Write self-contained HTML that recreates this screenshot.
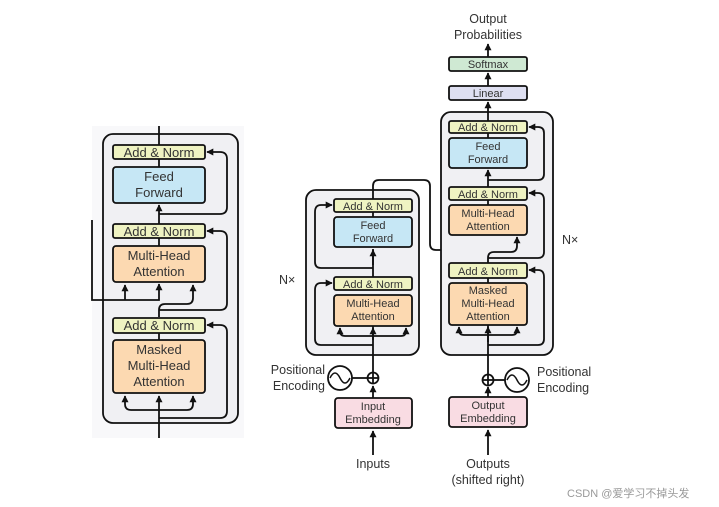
<!DOCTYPE html>
<html><head><meta charset="utf-8"><style>
html,body{margin:0;padding:0;background:#fff;width:719px;height:507px;overflow:hidden}
svg{display:block}
text{font-family:"Liberation Sans",sans-serif;fill:#333}
</style></head><body>
<svg width="719" height="507" viewBox="0 0 719 507" xmlns="http://www.w3.org/2000/svg">
<defs><marker id="a" viewBox="0 0 10 10" refX="9" refY="5" markerUnits="userSpaceOnUse" markerWidth="7" markerHeight="7" orient="auto"><path d="M0,0L10,5L0,10z" fill="#111"/></marker></defs>
<g stroke="#111" stroke-width="1.8" fill="none">
<!-- LEFT PANEL -->
<rect x="92" y="126" width="152" height="312" fill="#f8f8fa" stroke="none"/>
<rect x="103" y="134" width="135" height="289" rx="10" fill="#f0f0f3"/>
<line x1="159" y1="126" x2="159" y2="145"/>
<line x1="159" y1="159" x2="159" y2="167"/>
<line x1="159" y1="238" x2="159" y2="246"/>
<line x1="159" y1="224" x2="159" y2="205" marker-end="url(#a)"/>
<path d="M159 214 H220 Q227 214 227 207 V159 Q227 152 220 152 H207" marker-end="url(#a)"/>
<path d="M92 220 V300 H159 V284" marker-end="url(#a)"/>
<path d="M125 300 V285" marker-end="url(#a)"/>
<path d="M159 317 V310 Q159 304 165 304 H187 Q193 304 193 298 V285" marker-end="url(#a)"/>
<path d="M159 310 H220 Q227 310 227 303 V238 Q227 231 220 231 H207" marker-end="url(#a)"/>
<line x1="159" y1="333" x2="159" y2="340"/>
<path d="M159 438 V396" marker-end="url(#a)"/>
<path d="M159 410 H131 Q125 410 125 404 V396" marker-end="url(#a)"/>
<path d="M159 410 H187 Q193 410 193 404 V396" marker-end="url(#a)"/>
<path d="M159 418 H220 Q227 418 227 411 V332 Q227 325 220 325 H207" marker-end="url(#a)"/>
<rect x="113" y="145" width="92" height="14" rx="2" fill="#eff3c2"/>
<rect x="113" y="167" width="92" height="36" rx="3" fill="#c6e7f5"/>
<rect x="113" y="224" width="92" height="14" rx="2" fill="#eff3c2"/>
<rect x="113" y="246" width="92" height="36" rx="3" fill="#fcd9b1"/>
<rect x="113" y="318" width="92" height="15" rx="2" fill="#eff3c2"/>
<rect x="113" y="340" width="92" height="53" rx="3" fill="#fcd9b1"/>

<!-- ENCODER -->
<rect x="306" y="190" width="113" height="165" rx="10" fill="#f0f0f3"/>
<path d="M373 455 V431" marker-end="url(#a)"/>
<path d="M373 398 V386" marker-end="url(#a)"/>
<line x1="373" y1="373" x2="373" y2="326"/>
<path d="M373 345 H321 Q315 345 315 339 V290 Q315 283 321 283 H332" marker-end="url(#a)"/>
<path d="M373 336 H345 Q340 336 340 331 V328" marker-end="url(#a)"/>
<path d="M373 336 H401 Q406 336 406 331 V328" marker-end="url(#a)"/>
<path d="M373 340 V328" marker-end="url(#a)"/>
<line x1="373" y1="277" x2="373" y2="249"/>
<path d="M373 265 V250" marker-end="url(#a)"/>
<path d="M373 268 H321 Q315 268 315 262 V212 Q315 205 321 205 H332" marker-end="url(#a)"/>
<line x1="373" y1="212" x2="373" y2="217"/>
<path d="M373 199 V186 Q373 180 379 180 H424 Q430 180 430 186 V244 Q430 250 436 250 H488 V237" marker-end="url(#a)"/>
<path d="M459 250 V237" marker-end="url(#a)"/>
<circle cx="373" cy="378" r="5.5" fill="#fff"/>
<line x1="367.5" y1="378" x2="378.5" y2="378"/><line x1="373" y1="372.5" x2="373" y2="383.5"/>
<line x1="352" y1="378" x2="367" y2="378"/>
<circle cx="340" cy="378" r="12" fill="#fff"/>
<path d="M330 378 Q335 368 340 378 T350 378" stroke-width="1.5"/>
<rect x="334" y="199" width="78" height="13" rx="2" fill="#eff3c2"/>
<rect x="334" y="217" width="78" height="30" rx="3" fill="#c6e7f5"/>
<rect x="334" y="277" width="78" height="13" rx="2" fill="#eff3c2"/>
<rect x="334" y="295" width="78" height="31" rx="3" fill="#fcd9b1"/>
<rect x="335" y="398" width="77" height="30" rx="3" fill="#f9dce3"/>

<!-- DECODER -->
<rect x="441" y="112" width="112" height="243" rx="10" fill="#f0f0f3"/>
<path d="M488 455 V430" marker-end="url(#a)"/>
<path d="M488 397 V387" marker-end="url(#a)"/>
<line x1="488" y1="374" x2="488" y2="325"/>
<path d="M488 345 H538 Q544 345 544 339 V277 Q544 270 538 270 H529" marker-end="url(#a)"/>
<path d="M488 335 H464 Q459 335 459 330 V327" marker-end="url(#a)"/>
<path d="M488 335 H512 Q517 335 517 330 V327" marker-end="url(#a)"/>
<path d="M488 342 V327" marker-end="url(#a)"/>
<line x1="488" y1="278" x2="488" y2="283"/>
<path d="M488 263 V258 Q488 252 494 252 H511 Q517 252 517 246 V237" marker-end="url(#a)"/>
<path d="M488 258 H538 Q544 258 544 252 V200 Q544 193 538 193 H529" marker-end="url(#a)"/>
<line x1="488" y1="200" x2="488" y2="205"/>
<path d="M488 187 V170" marker-end="url(#a)"/>
<path d="M488 180 H538 Q544 180 544 174 V133 Q544 127 538 127 H529" marker-end="url(#a)"/>
<line x1="488" y1="133" x2="488" y2="138"/>
<path d="M488 121 V102" marker-end="url(#a)"/>
<path d="M488 86 V73" marker-end="url(#a)"/>
<path d="M488 57 V44" marker-end="url(#a)"/>
<circle cx="488" cy="380" r="5.5" fill="#fff"/>
<line x1="482.5" y1="380" x2="493.5" y2="380"/><line x1="488" y1="374.5" x2="488" y2="385.5"/>
<line x1="493.5" y1="380" x2="505" y2="380"/>
<circle cx="517" cy="380" r="12" fill="#fff"/>
<path d="M507 380 Q512 370 517 380 T527 380" stroke-width="1.5"/>
<rect x="449" y="57" width="78" height="14" rx="2" fill="#cfe9d3"/>
<rect x="449" y="86" width="78" height="14" rx="2" fill="#dedff1"/>
<rect x="449" y="121" width="78" height="12" rx="2" fill="#eff3c2"/>
<rect x="449" y="138" width="78" height="30" rx="3" fill="#c6e7f5"/>
<rect x="449" y="187" width="78" height="13" rx="2" fill="#eff3c2"/>
<rect x="449" y="205" width="78" height="30" rx="3" fill="#fcd9b1"/>
<rect x="449" y="263" width="78" height="15" rx="2" fill="#eff3c2"/>
<rect x="449" y="283" width="78" height="42" rx="3" fill="#fcd9b1"/>
<rect x="449" y="397" width="78" height="30" rx="3" fill="#f9dce3"/>
</g>
<g text-anchor="middle" font-size="13">
<text x="159" y="157">Add &amp; Norm</text>
<text x="159" y="181">Feed</text><text x="159" y="197">Forward</text>
<text x="159" y="236">Add &amp; Norm</text>
<text x="159" y="260">Multi-Head</text><text x="159" y="276">Attention</text>
<text x="159" y="330">Add &amp; Norm</text>
<text x="159" y="354">Masked</text><text x="159" y="370">Multi-Head</text><text x="159" y="386">Attention</text>
</g>
<g text-anchor="middle" font-size="11">
<text x="373" y="210">Add &amp; Norm</text>
<text x="373" y="229">Feed</text><text x="373" y="242">Forward</text>
<text x="373" y="288">Add &amp; Norm</text>
<text x="373" y="307">Multi-Head</text><text x="373" y="320">Attention</text>
<text x="373" y="410">Input</text><text x="373" y="423">Embedding</text>
<text x="488" y="68">Softmax</text>
<text x="488" y="97">Linear</text>
<text x="488" y="131">Add &amp; Norm</text>
<text x="488" y="150">Feed</text><text x="488" y="163">Forward</text>
<text x="488" y="198">Add &amp; Norm</text>
<text x="488" y="217">Multi-Head</text><text x="488" y="230">Attention</text>
<text x="488" y="275">Add &amp; Norm</text>
<text x="488" y="294">Masked</text><text x="488" y="307">Multi-Head</text><text x="488" y="320">Attention</text>
<text x="488" y="409">Output</text><text x="488" y="422">Embedding</text>
</g>
<g font-size="12.5">
<text x="488" y="23" text-anchor="middle">Output</text>
<text x="488" y="39" text-anchor="middle">Probabilities</text>
<text x="373" y="468" text-anchor="middle">Inputs</text>
<text x="488" y="468" text-anchor="middle">Outputs</text>
<text x="488" y="484" text-anchor="middle">(shifted right)</text>
<text x="325" y="374" text-anchor="end">Positional</text>
<text x="325" y="390" text-anchor="end">Encoding</text>
<text x="537" y="376">Positional</text>
<text x="537" y="392">Encoding</text>
<text x="279" y="284">N×</text>
<text x="562" y="244">N×</text>
</g>
<text x="567" y="497" font-size="11" style="fill:#999;font-family:'Liberation Sans','Noto Sans CJK SC',sans-serif">CSDN @爱学习不掉头发</text>
</svg>
</body></html>
